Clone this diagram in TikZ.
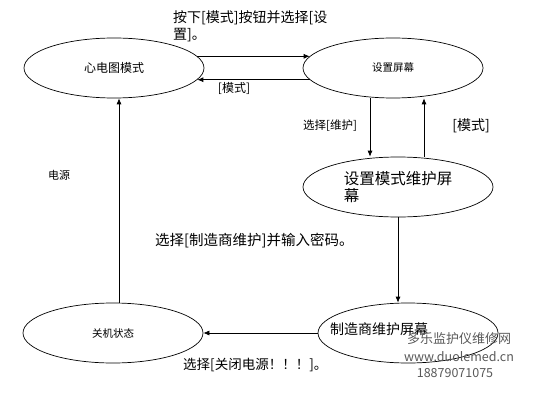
\documentclass[tikz,border=0pt]{standalone}
\usepackage{fontspec}
\setmainfont{Noto Sans CJK SC}
\usetikzlibrary{positioning,shapes.geometric,arrows.meta}
\tikzset{
    state/.style={draw, ellipse, line width=0.7pt, minimum width=180pt, minimum height=60pt, inner sep=0pt},
    trans/.style={-{Latex[length=6pt,width=5pt]}, line width=0.7pt},
    fs/.style={font=\fontsize{#1}{#1}\selectfont}
}

\begin{document}
\begin{tikzpicture}[x=1pt,y=-1pt]
\tikzstyle{lbl}=[inner sep=0pt]
\tikzstyle{wmark}=[inner sep=0pt, text=black!65]
\useasboundingbox (0,0) rectangle (534,406);

\node[state, fs=12] (ecg) at (114,68) {心电图模式};
\node[state, fs=10.5] (setup) at (393,68) {设置屏幕};
\node[state, minimum width=190pt, fs=15.5, align=left] (maint) at (398,187) {设置模式维护屏\\[2pt]幕};
\node[state, fs=10.5] (off) at (113,333) {关机状态};
\node[state] (mfr) at (408,333) {};
\node[lbl, fs=14, anchor=west] (mfrtext) at (330,329) {制造商维护屏幕};

\coordinate (downx) at (370,0);
\coordinate (upx) at (424,0);
\coordinate (powerx) at (119,0);

\draw[trans] (ecg.8) -- (setup.172);
\draw[trans] (setup.188) -- (ecg.352);
\draw[trans] (setup.south -| downx) -- (maint.north -| downx);
\draw[trans] (maint.north -| upx) -- (setup.south -| upx);
\draw[trans] (maint.south) -- (maint.south |- mfr.north);
\draw[trans] (mfr.west) -- (off.east);
\draw[trans] (off.north -| powerx) -- (ecg.south -| powerx);

\node[lbl, fs=14, anchor=west] (press) at (173,18) {按下[模式]按钮并选择[设};
\node[lbl, fs=14, anchor=west] (press2) at (173,35) {置]。};
\node[lbl, fs=12] (modeback) at (234,88) {[模式]};
\node[lbl, fs=11.5] (selmaint) at (330,126) {选择[维护]};
\node[lbl, fs=14] (modeup) at (471,126) {[模式]};
\node[lbl, fs=11] (power) at (59,175) {电源};
\node[lbl, fs=14.5, anchor=west] (selmfr) at (155,241) {选择[制造商维护]并输入密码。};
\node[lbl, fs=13.5, anchor=west] (shutdown) at (183,365) {选择[关闭电源！！！]。};

\node[wmark, fs=13] (wm1) at (459,339) {多乐监护仪维修网};
\node[wmark, fs=12.5] (wm2) at (459,357) {www.duolemed.cn};
\node[wmark, fs=12.5] (wm3) at (455,373) {18879071075};
\end{tikzpicture}
\end{document}
